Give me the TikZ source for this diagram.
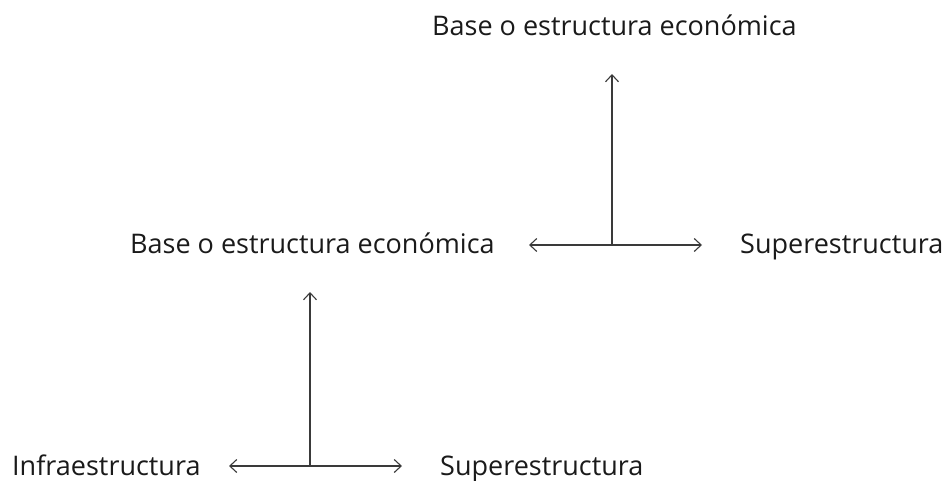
\documentclass[tikz,border=0pt]{standalone}
\usepackage{fontspec,xcolor}
\usetikzlibrary{arrows.meta}
\setmainfont{Open Sans}
\definecolor{ink}{HTML}{1A1A1A}
\definecolor{rule}{HTML}{3A3A3A}
\begin{document}
\begin{tikzpicture}[x=1pt,y=-1pt,
  label/.style={anchor=base west,inner sep=0pt,text=ink,font=\fontsize{27}{31}\selectfont},
  arrow/.style={draw=rule,line width=1.1pt,-{Straight Barb[length=7pt,width=13pt]}}]
\useasboundingbox (0,0) rectangle (944,480);
% upper level
\node[label] (baseTop) at (432,35) {Base o estructura económica};
\node[label] (baseMid) at (130,253) {Base o estructura económica};
\node[label] (supMid) at (740,253) {Superestructura};
\coordinate (jointMid) at (612,245);
\coordinate (tipUp) at (612,74);
\coordinate (tipLeft) at (529,245);
\coordinate (tipRight) at (702,245);
\draw[arrow] (jointMid) -- (tipUp);
\draw[arrow] (jointMid) -- (tipLeft);
\draw[arrow] (jointMid) -- (tipRight);
% lower level
\node[label] (infraLow) at (12,475) {Infraestructura};
\node[label] (supLow) at (440,475) {Superestructura};
\coordinate (jointLow) at (310,466);
\coordinate (tipUpLow) at (310,292);
\coordinate (tipLeftLow) at (229,466);
\coordinate (tipRightLow) at (402,466);
\draw[arrow] (jointLow) -- (tipUpLow);
\draw[arrow] (jointLow) -- (tipLeftLow);
\draw[arrow] (jointLow) -- (tipRightLow);
\end{tikzpicture}
\end{document}
